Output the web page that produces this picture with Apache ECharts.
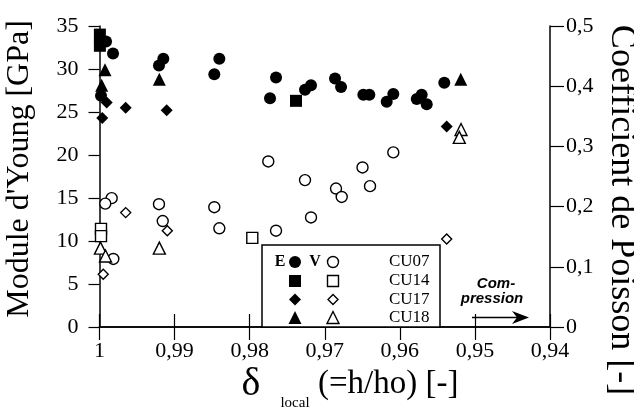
<!DOCTYPE html>
<html><head><meta charset="utf-8">
<script src="https://cdn.jsdelivr.net/npm/echarts@6/dist/echarts.min.js"></script>
<style>html,body{margin:0;padding:0;background:#fff}#c{width:634px;height:411px}</style>
</head><body><div id="c"></div>
<script>
// X ticks
const xTicks = [1, 0.99, 0.98, 0.97, 0.96, 0.95, 0.94];
// Young's modulus E [GPa] (left axis), pairs [delta, E]
const cu07E = [[0.99913,33.2],[0.9982,31.8],[0.9998,26.9],[0.9915,31.2],[0.99208,30.4],[0.98404,31.2],[0.98471,29.4],[0.97649,29.0],[0.97729,26.6],[0.97263,27.6],[0.97183,28.1],[0.96863,28.9],[0.96783,27.9],[0.96486,27.0],[0.96406,27.0],[0.96087,27.1],[0.96175,26.2],[0.95709,27.0],[0.95775,26.5],[0.95642,25.9],[0.95408,28.4]];
const cu14E = [[0.99995,34.0],[0.99995,32.7],[0.97383,26.3]];
const cu17E = [[0.99904,26.1],[0.99651,25.5],[0.99105,25.2],[0.99963,24.3],[0.95376,23.3]];
const cu18E = [[0.99927,29.9],[0.99971,28.1],[0.99203,28.8],[0.95189,28.8]];
// Poisson coefficient nu [-] (right axis), pairs [delta, nu]
const cu07N = [[0.99838,0.214],[0.99923,0.205],[0.99816,0.113],[0.99208,0.204],[0.99158,0.176],[0.98471,0.199],[0.98404,0.164],[0.97752,0.275],[0.97649,0.160],[0.97263,0.244],[0.97183,0.182],[0.9685,0.230],[0.96774,0.216],[0.96497,0.265],[0.96397,0.234],[0.96087,0.290]];
const cu14N = [[0.9998,0.163],[0.9998,0.151],[0.97965,0.148]];
const cu17N = [[0.99651,0.190],[0.99097,0.160],[0.9995,0.0875],[0.95376,0.146]];
const cu18N = [[0.99987,0.131],[0.9992,0.118],[0.99203,0.131],[0.95185,0.328],[0.95208,0.315]];
const legendRows = ['CU07','CU14','CU17','CU18'];

const SERIF = '"Liberation Serif","DejaVu Serif",serif';
const chart = echarts.init(document.getElementById('c'), null, {renderer:'canvas'});
const axLine = {show:true, lineStyle:{color:'#000', width:1.5}};
const fmtX = v => { const r = Math.round(v*100)/100; return r === 1 ? '1' : r.toFixed(2).replace('.', ','); };
const fmtN = v => { const r = Math.round(v*10)/10; return r === 0 ? '0' : r.toFixed(1).replace('.', ','); };

function filled(name, data, sym, size, yi) {
  return {type:'scatter', name, data, xAxisIndex:0, yAxisIndex:yi, symbol:sym, symbolSize:size,
    itemStyle:{color:'#000', opacity:1}, emphasis:{disabled:true}, z:3};
}
function open(name, data, sym, size, yi) {
  return {type:'scatter', name, data, xAxisIndex:0, yAxisIndex:yi, symbol:sym, symbolSize:size,
    itemStyle:{color:'#fff', borderColor:'#000', borderWidth:1.4, opacity:1}, emphasis:{disabled:true}, z:3};
}

// legend graphics
const lg = [];
const lx = 262, ly = 245;
lg.push({type:'rect', shape:{x:lx, y:ly, width:178, height:82}, style:{fill:'#fff', stroke:'#000', lineWidth:1.5}, z:10});
const rowsY = [262, 281, 299.5, 318];
lg.push({type:'text', x:280, y:rowsY[0], style:{text:'E', font:'bold 16px '+SERIF, fill:'#000', align:'center', verticalAlign:'middle'}, z:11});
lg.push({type:'text', x:315, y:rowsY[0], style:{text:'V', font:'bold 16px '+SERIF, fill:'#000', align:'center', verticalAlign:'middle'}, z:11});
legendRows.forEach((t,i)=>{
  lg.push({type:'text', x:389, y:rowsY[i], style:{text:t, font:'17px '+SERIF, fill:'#000', align:'left', verticalAlign:'middle'}, z:11});
});
const fx = 295, ox = 333;
// filled symbols
lg.push({type:'circle', shape:{cx:fx, cy:rowsY[0], r:6}, style:{fill:'#000'}, z:11});
lg.push({type:'rect', shape:{x:fx-6, y:rowsY[1]-6, width:12, height:12}, style:{fill:'#000'}, z:11});
lg.push({type:'polygon', shape:{points:[[fx,rowsY[2]-6],[fx+6,rowsY[2]],[fx,rowsY[2]+6],[fx-6,rowsY[2]]]}, style:{fill:'#000'}, z:11});
lg.push({type:'polygon', shape:{points:[[fx,rowsY[3]-7],[fx+6.5,rowsY[3]+6],[fx-6.5,rowsY[3]+6]]}, style:{fill:'#000'}, z:11});
// open symbols
lg.push({type:'circle', shape:{cx:ox, cy:rowsY[0], r:5.5}, style:{fill:'#fff', stroke:'#000', lineWidth:1.4}, z:11});
lg.push({type:'rect', shape:{x:ox-5.5, y:rowsY[1]-5.5, width:11, height:11}, style:{fill:'#fff', stroke:'#000', lineWidth:1.4}, z:11});
lg.push({type:'polygon', shape:{points:[[ox,rowsY[2]-5],[ox+5,rowsY[2]],[ox,rowsY[2]+5],[ox-5,rowsY[2]]]}, style:{fill:'#fff', stroke:'#000', lineWidth:1.4}, z:11});
lg.push({type:'polygon', shape:{points:[[ox,rowsY[3]-6.5],[ox+6,rowsY[3]+5.5],[ox-6,rowsY[3]+5.5]]}, style:{fill:'#fff', stroke:'#000', lineWidth:1.4}, z:11});

// compression annotation
lg.push({type:'text', x:496, y:284, style:{text:'Com-', font:'italic bold 15px "Liberation Sans",Arial,sans-serif', fill:'#000', align:'center', verticalAlign:'middle'}, z:11});
lg.push({type:'text', x:492, y:299, style:{text:'pression', font:'italic bold 15px "Liberation Sans",Arial,sans-serif', fill:'#000', align:'center', verticalAlign:'middle'}, z:11});
lg.push({type:'line', shape:{x1:472, y1:317.5, x2:524, y2:317.5}, style:{stroke:'#000', lineWidth:1.5}, z:11});
lg.push({type:'polygon', shape:{points:[[512,311],[529,317.5],[512,324],[517,317.5]]}, style:{fill:'#000'}, z:11});

// axis titles
lg.push({type:'text', x:20, y:169, rotation:Math.PI/2, style:{text:"Module d'Young [GPa]", font:'32px '+SERIF, fill:'#000', align:'center', verticalAlign:'middle'}, z:11});
lg.push({type:'text', x:621, y:210, rotation:-Math.PI/2, style:{text:'Coefficient de Poisson [-]', font:'36px '+SERIF, fill:'#000', align:'center', verticalAlign:'middle'}, z:11});
lg.push({type:'text', x:251, y:384, style:{text:'δ', font:'40px '+SERIF, fill:'#000', align:'center', verticalAlign:'middle'}, z:11});
lg.push({type:'text', x:295, y:403, style:{text:'local', font:'15px '+SERIF, fill:'#000', align:'center', verticalAlign:'middle'}, z:11});
lg.push({type:'text', x:318, y:384, style:{text:'(=h/ho) [-]', font:'33px '+SERIF, fill:'#000', align:'left', verticalAlign:'middle'}, z:11});

const option = {
  animation:false,
  backgroundColor:'#fff',
  grid:{left:99.5, right:84, top:26, bottom:84, containLabel:false},
  xAxis:[
    {type:'value', inverse:true, min:0.94, max:1, interval:0.01, position:'bottom',
     axisLine:axLine, axisTick:{show:true, inside:false, length:13, lineStyle:{color:'#000', width:1.2}},
     axisLabel:{formatter:fmtX, margin:13, color:'#000', fontFamily:SERIF, fontSize:22},
     splitLine:{show:false}},
    {type:'value', inverse:true, min:0.94, max:1, interval:0.01, position:'top',
     axisLine:axLine, axisTick:{show:true, inside:false, length:13, lineStyle:{color:'#000', width:1.2}},
     axisLabel:{show:false}, splitLine:{show:false}}
  ],
  yAxis:[
    {type:'value', min:0, max:35, interval:5, position:'left',
     axisLine:axLine, axisTick:{show:true, inside:false, length:11, lineStyle:{color:'#000', width:1.2}},
     axisLabel:{margin:21, color:'#000', fontFamily:SERIF, fontSize:22}, splitLine:{show:false}},
    {type:'value', min:0, max:0.5, interval:0.1, position:'right',
     axisLine:axLine, axisTick:{show:true, inside:false, length:14, lineStyle:{color:'#000', width:1.2}},
     axisLabel:{formatter:fmtN, margin:16, color:'#000', fontFamily:SERIF, fontSize:22}, splitLine:{show:false}}
  ],
  series:[
    filled('CU07 E', cu07E, 'circle', 12, 0),
    filled('CU14 E', cu14E, 'rect', 12, 0),
    filled('CU17 E', cu17E, 'diamond', 12, 0),
    filled('CU18 E', cu18E, 'triangle', 13, 0),
    open('CU07 ν', cu07N, 'circle', 11, 1),
    open('CU14 ν', cu14N, 'rect', 11, 1),
    open('CU17 ν', cu17N, 'diamond', 10, 1),
    open('CU18 ν', cu18N, 'triangle', 12, 1)
  ],
  graphic:lg
};
chart.setOption(option);
</script></body></html>
